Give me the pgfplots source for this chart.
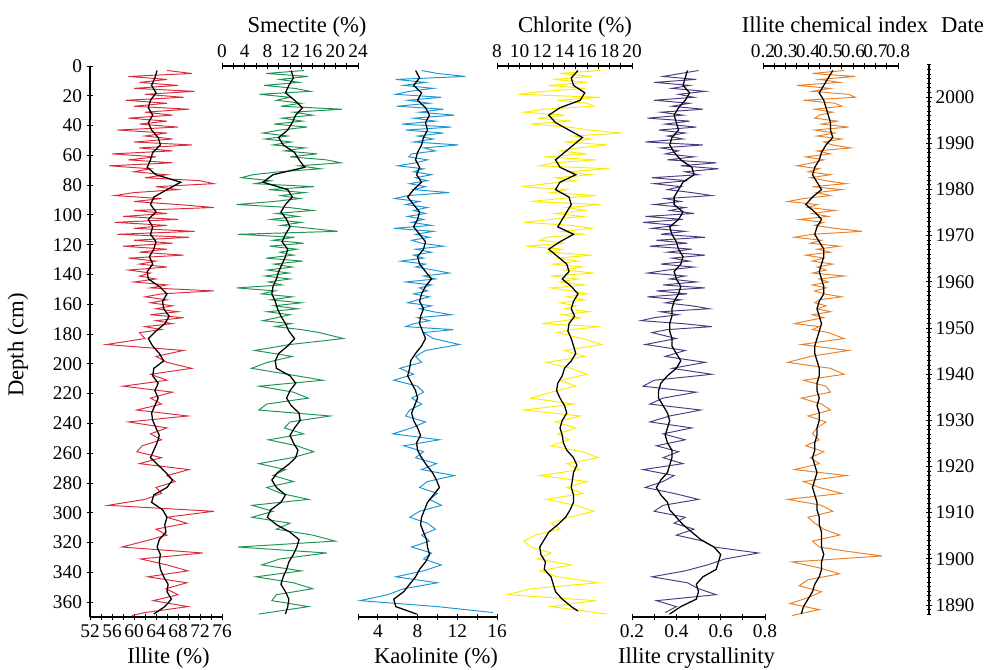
\documentclass[border=0pt]{standalone}
\usepackage{pgfplots}
\pgfplotsset{compat=1.18}
\usepackage{fontspec}
\setmainfont{Liberation Serif}

\definecolor{illitec}{RGB}{218,45,60}
\definecolor{smectc}{RGB}{30,148,82}
\definecolor{kaolc}{RGB}{28,150,212}
\definecolor{chlorc}{RGB}{252,236,0}
\definecolor{crystc}{RGB}{78,58,132}
\definecolor{chemc}{RGB}{234,128,40}

\pgfplotsset{
  panel/.style={
    scale only axis, height=413.25pt, anchor=south west,
    ymin=0, ymax=370, y dir=reverse, enlargelimits=false,
    tick style={black, line width=0.7pt},
    major tick length=5pt, minor tick length=4pt,
    tick label style={font=\fontsize{14.5}{17}\selectfont},
    /pgf/number format/assume math mode=true,
    clip=false,
  },
  plain lines/.style={
    axis line style={-, line width=0.9pt},
    x axis line style={-}, y axis line style={-},
    every outer x axis line/.append style={-},
    every outer y axis line/.append style={-},
  },
  raw/.style={line width=0.72pt},
  mean/.style={black, line width=0.95pt},
}

\newcommand\ttl{\fontsize{17}{20}\selectfont}

\begin{document}
\begin{tikzpicture}
\path[use as bounding box] (0pt,0pt) rectangle (740.25pt,-501.75pt);

% Illite
\begin{axis}[panel, at={(67.5pt,-462.75pt)}, width=99pt,
  xmin=52, xmax=76, axis x line=bottom, axis y line=left,
  xtick={52,56,...,76}, minor xtick={54,58,...,74},
  ytick={0,20,...,360}, plain lines]
\addplot[raw, illitec] coordinates {(66,3) (70.5,5) (59,7) (66,9) (61,11) (68,13) (60,15) (71,17) (62,19) (69,21) (58.5,23) (66,25) (60,27) (70,29) (62,31) (67,33) (59,35) (66,37) (61,39) (68,41) (57,43) (66,45) (62,47) (67,49) (60,51) (70.5,53) (61,55) (67,57) (56,59) (64,61) (59,63) (67,65) (55.5,67) (63,69) (60,71) (66,73) (62,75) (72,77) (74.5,79) (64,81) (68,83) (60,85) (56.5,87) (65,89) (60,91) (68,93) (74.5,95) (60,97) (66,99) (58,101) (68,103) (56.5,105) (66,107) (60,109) (71,111) (57,113) (70,115) (60,117) (67,119) (58,121) (66,123) (61,125) (69,127) (59,129) (64,131) (61,133) (66,135) (59,137) (63,139) (61,141) (64,143) (60,145) (66,147) (63,149) (74.5,151) (65,153) (62,155) (66,157) (63,159) (67,161) (64,163) (68,165) (63,167) (69,169) (64,171) (67,173) (62,175) (65,177) (61,179) (62,183) (55,187) (69,191) (64,195) (66,199) (70.5,203) (63,207) (66,211) (58,215) (67,219) (63,223) (65,227) (60.5,231) (69.8,235) (59,239) (66,243) (63,247) (65,251) (61.5,255) (60.5,259) (65,263) (61,267) (70,271) (66,275) (67.5,279) (64,283) (65,287) (62,291) (55.3,295) (74.5,299) (66,303) (69.6,307) (64,311) (66,315) (62,319) (57.8,323) (72.5,327) (61.2,331) (66,335) (69.8,339) (62.5,343) (69.6,347) (65.8,351) (68,355) (63.5,359) (69.8,363) (62,367) (59.6,369)};
\addplot[mean] coordinates {(64.2,3) (63.8,8) (63.2,13) (64.0,18) (63.0,23) (62.6,28) (63.4,33) (62.6,38) (63.2,43) (64.4,48) (64.8,53) (63.4,58) (63.0,63) (62.4,68) (64.0,73) (68.5,78) (66.0,83) (63.6,88) (63.0,93) (64.0,98) (62.6,103) (63.4,108) (63.0,113) (64.0,118) (63.6,123) (62.8,128) (63.4,133) (62.4,138) (62.6,143) (64.6,148) (66.0,153) (65.2,158) (65.4,163) (66.4,168) (65.6,173) (64.0,178) (62.6,183) (63.4,188) (64.6,193) (65.4,198) (63.6,203) (63.4,208) (64.4,213) (63.8,218) (64.4,223) (63.8,228) (63.2,233) (63.4,238) (64.0,243) (64.6,248) (64.2,253) (63.6,258) (63.0,263) (64.4,268) (65.8,273) (67.0,278) (66.0,283) (63.6,288) (63.2,293) (65.2,298) (66.0,303) (65.6,308) (65.8,313) (64.6,318) (64.2,323) (64.8,328) (64.6,333) (64.8,338) (65.4,343) (66.2,348) (66.0,353) (66.8,358) (65.6,363) (63.6,368)};
\end{axis}

% Smectite
\begin{axis}[panel, at={(166.5pt,-462.75pt)}, width=102pt,
  xmin=0, xmax=24, axis x line=top, axis y line=none, ytick=\empty,
  xtick={0,4,...,24}, minor xtick={2,6,...,22}, plain lines]
\addplot[raw, smectc] coordinates {(14.5,3) (7.8,5) (15.2,7) (10.2,9) (13.6,11) (7.4,13) (12.8,15) (15.6,17) (6.6,19) (12.0,21) (9.6,23) (14.0,25) (10.4,27) (21.2,29) (12.6,31) (16.0,33) (10.6,35) (14.2,37) (9.2,39) (15.0,41) (10.2,43) (7.2,45) (11.6,47) (7.6,49) (12.2,51) (9.0,53) (14.6,55) (11.0,57) (16.8,59) (12.0,61) (18.4,63) (21.0,65) (13.6,67) (17.4,69) (10.2,71) (5.4,73) (3.4,75) (8.6,77) (5.8,79) (16.2,81) (8.2,83) (14.6,85) (10.4,87) (13.8,89) (9.0,91) (2.6,93) (11.8,95) (16.0,97) (9.6,99) (13.4,101) (8.6,103) (14.0,105) (10.4,107) (15.6,109) (20.4,111) (2.8,113) (12.8,115) (9.0,117) (14.4,119) (8.4,121) (13.2,123) (10.2,125) (12.6,127) (7.8,129) (14.2,131) (9.2,133) (12.4,135) (8.0,137) (11.8,139) (7.6,141) (12.0,143) (8.2,145) (10.6,147) (2.6,149) (9.4,151) (7.0,153) (12.4,155) (8.6,157) (14.0,159) (9.2,161) (13.4,163) (8.0,165) (12.0,167) (9.6,169) (7.2,171) (12.2,173) (9.4,175) (14.0,177) (17.2,179) (21.4,183) (12.0,187) (5.8,191) (12.4,195) (8.0,199) (5.2,203) (11.6,207) (17.8,211) (6.5,215) (12.6,219) (15.2,223) (7.9,227) (6.5,231) (19.1,235) (12.0,239) (11.0,243) (14.4,247) (8.2,251) (13.2,255) (16.2,259) (12.4,263) (6.5,267) (11.2,271) (9.0,275) (12.6,279) (7.9,283) (10.4,287) (15.3,291) (5.3,295) (9.0,299) (5.3,303) (12.0,307) (9.6,311) (16.0,315) (20.0,319) (2.8,323) (18.5,327) (10.2,331) (7.0,335) (14.0,339) (6.0,343) (12.6,347) (16.0,351) (9.6,355) (8.8,359) (15.3,363) (6.5,368)};
\addplot[mean] coordinates {(12.2,3) (12.6,8) (11.8,13) (11.2,18) (12.8,23) (14.2,28) (13.0,33) (12.4,38) (11.6,43) (10.0,48) (10.8,53) (12.8,58) (13.6,63) (14.6,68) (9.0,73) (7.2,78) (11.6,83) (12.4,88) (11.2,93) (10.4,98) (11.4,103) (12.0,108) (11.2,113) (10.6,118) (11.6,123) (11.2,128) (10.6,133) (10.0,138) (9.6,143) (9.0,148) (8.8,153) (9.4,158) (9.8,163) (10.4,168) (11.2,173) (11.8,178) (12.8,183) (11.6,188) (10.0,193) (9.4,198) (9.6,203) (12.0,208) (13.0,213) (12.0,218) (11.4,223) (12.2,228) (13.6,233) (13.8,238) (12.8,243) (12.0,248) (12.6,253) (13.4,258) (13.0,263) (11.6,268) (9.8,273) (8.8,278) (9.6,283) (11.2,288) (10.4,293) (8.6,298) (8.0,303) (9.6,308) (12.0,313) (13.6,318) (13.2,323) (12.6,328) (11.8,333) (11.4,338) (10.8,343) (10.4,348) (11.2,353) (11.8,358) (11.6,363) (11.2,368)};
\end{axis}

% Kaolinite
\begin{axis}[panel, at={(268.5pt,-462.75pt)}, width=104.25pt,
  xmin=2, xmax=16, axis x line=bottom, axis y line=none, ytick=\empty,
  xtick={4,8,12,16}, minor xtick={2,6,10,14}, plain lines]
\addplot[raw, kaolc] coordinates {(8.4,3) (10.0,5) (12.8,7) (5.8,9) (8.8,11) (6.6,13) (9.6,15) (7.2,17) (5.8,19) (10.4,21) (7.0,23) (9.2,25) (5.9,27) (10.6,29) (8.2,31) (11.7,33) (7.6,35) (9.8,37) (6.4,39) (11.4,41) (6.8,43) (10.6,45) (8.0,47) (9.6,49) (7.6,51) (12.1,53) (8.6,55) (9.8,57) (7.4,59) (7.1,61) (9.0,63) (7.8,65) (6.0,67) (8.6,69) (7.6,71) (9.4,73) (7.8,75) (9.0,77) (7.2,79) (8.8,81) (7.6,83) (11.2,85) (7.0,87) (5.7,89) (8.2,91) (6.8,93) (9.0,95) (7.6,97) (8.8,99) (7.0,101) (8.6,103) (7.4,105) (9.4,107) (5.6,109) (9.6,111) (7.8,113) (9.2,115) (7.4,117) (8.4,119) (10.6,121) (7.8,123) (9.4,125) (7.6,127) (8.6,129) (6.3,131) (8.8,133) (7.8,135) (9.6,137) (11.2,139) (8.6,141) (9.8,143) (6.8,145) (9.4,147) (8.2,149) (9.0,151) (7.6,153) (9.2,155) (8.0,157) (7.0,159) (9.4,161) (8.2,163) (9.6,165) (11.4,167) (8.0,169) (9.2,171) (7.6,173) (6.8,175) (11.6,177) (8.6,179) (9.6,183) (12.2,187) (8.8,191) (7.8,195) (8.4,199) (6.2,203) (7.6,207) (5.6,211) (8.0,215) (8.6,219) (7.4,223) (8.4,227) (7.2,231) (6.8,235) (8.8,239) (7.4,243) (5.5,247) (10.2,251) (6.6,255) (8.6,259) (7.8,263) (9.9,267) (8.4,271) (11.7,275) (9.0,279) (8.2,283) (10.0,287) (9.2,291) (10.4,295) (8.2,299) (7.2,303) (9.0,307) (9.8,311) (8.4,315) (9.2,319) (7.4,323) (9.4,327) (8.6,331) (10.4,335) (8.6,339) (5.8,343) (10.0,347) (6.6,351) (5.0,355) (2.2,359) (10.0,363) (15.6,367)};
\addplot[mean] coordinates {(7.8,3) (8.2,8) (7.6,13) (8.4,18) (8.0,23) (8.8,28) (9.2,33) (8.8,38) (9.0,43) (8.6,48) (8.4,53) (8.0,58) (7.8,63) (8.2,68) (7.9,73) (8.4,78) (7.6,83) (7.0,88) (7.6,93) (8.2,98) (8.0,103) (7.6,108) (8.2,113) (8.8,118) (8.6,123) (8.0,128) (8.2,133) (8.8,138) (9.4,143) (8.8,148) (8.4,153) (8.2,158) (8.6,163) (8.3,168) (8.2,173) (8.5,178) (8.8,183) (8.4,188) (7.8,193) (7.3,198) (7.2,203) (7.0,208) (7.4,213) (7.8,218) (8.0,223) (7.7,228) (7.4,233) (7.6,238) (8.0,243) (8.3,248) (7.9,253) (8.0,258) (8.4,263) (8.9,268) (9.5,273) (9.9,278) (10.2,283) (9.6,288) (9.0,293) (8.7,298) (8.4,303) (8.3,308) (8.6,313) (8.9,318) (9.0,323) (9.2,328) (8.8,333) (8.2,338) (7.8,343) (7.2,348) (6.6,353) (5.6,358) (5.8,363) (7.9,368)};
\end{axis}

% Chlorite
\begin{axis}[panel, at={(372.75pt,-462.75pt)}, width=101.25pt,
  xmin=8, xmax=20, axis x line=top, axis y line=none, ytick=\empty,
  xtick={8,10,...,20}, minor xtick={9,11,...,19}, plain lines]
\addplot[raw, chlorc] coordinates {(17.2,3) (13.6,5) (16.4,7) (13.0,9) (16.0,11) (12.6,13) (15.8,15) (12.2,17) (9.9,19) (17.2,21) (13.4,23) (16.0,25) (16.6,27) (12.2,29) (10.4,31) (14.0,33) (11.6,35) (14.6,37) (11.0,39) (14.4,41) (16.2,43) (19.1,45) (14.8,47) (16.4,49) (14.0,51) (17.8,53) (15.2,55) (13.6,57) (16.0,59) (12.2,61) (16.8,63) (13.0,65) (11.8,67) (18.0,69) (14.2,71) (16.4,73) (13.2,75) (15.0,77) (12.4,79) (10.2,81) (14.2,83) (12.8,85) (16.8,87) (13.6,89) (11.0,91) (17.2,93) (14.2,95) (15.8,97) (13.2,99) (15.6,101) (12.8,103) (10.4,105) (14.6,107) (16.4,109) (13.8,111) (15.6,113) (12.4,115) (11.8,117) (14.0,119) (10.6,121) (13.8,123) (12.6,125) (16.4,127) (13.4,129) (15.2,131) (13.0,133) (15.6,135) (14.0,137) (16.6,139) (12.8,141) (15.2,143) (13.6,145) (15.8,147) (12.8,149) (14.6,151) (16.0,153) (14.2,155) (15.8,157) (13.6,159) (15.0,161) (14.0,163) (16.2,165) (13.8,167) (15.4,169) (14.0,171) (12.0,173) (17.2,175) (14.6,177) (13.4,179) (15.6,183) (17.3,187) (14.0,191) (15.8,195) (12.4,199) (14.6,203) (16.0,207) (13.6,211) (15.0,215) (12.8,219) (11.0,223) (14.8,227) (10.4,231) (15.4,235) (13.2,239) (15.0,243) (13.4,247) (14.4,251) (12.8,255) (15.6,259) (17.0,263) (14.2,267) (15.4,271) (11.8,275) (16.0,279) (14.2,283) (15.6,287) (12.4,291) (15.0,295) (16.6,299) (14.4,303) (12.8,307) (13.6,311) (11.4,315) (10.4,319) (11.0,323) (12.8,327) (11.6,331) (14.6,335) (11.8,339) (13.4,343) (17.0,347) (11.0,351) (8.9,355) (16.8,359) (12.8,363) (17.8,368)};
\addplot[mean] coordinates {(15.2,3) (14.6,8) (14.8,13) (15.8,18) (15.4,23) (13.6,28) (12.6,33) (13.2,38) (14.4,43) (15.6,48) (14.8,53) (14.0,58) (13.2,63) (13.6,68) (15.0,73) (13.6,78) (13.2,83) (14.4,88) (14.6,93) (14.2,98) (13.8,103) (13.4,108) (14.8,113) (13.6,118) (12.6,123) (13.4,128) (14.2,133) (14.4,138) (13.8,143) (14.6,148) (15.2,153) (14.8,158) (14.6,163) (14.9,168) (14.4,173) (14.3,178) (14.6,183) (14.8,188) (15.0,193) (14.6,198) (14.0,203) (13.8,208) (13.4,213) (13.3,218) (13.6,223) (14.0,228) (14.2,233) (13.8,238) (13.6,243) (13.8,248) (13.9,253) (14.2,258) (14.8,263) (15.1,268) (14.8,273) (14.7,278) (14.6,283) (14.8,288) (14.8,293) (14.5,298) (14.1,303) (13.4,308) (12.6,313) (12.2,318) (11.8,323) (11.9,328) (12.3,333) (12.2,338) (12.8,343) (13.0,348) (13.2,353) (13.8,358) (14.6,363) (15.2,366)};
\end{axis}

% Illite crystallinity
\begin{axis}[panel, at={(474pt,-462.75pt)}, width=99.75pt,
  xmin=0.2, xmax=0.8, axis x line=bottom, axis y line=none, ytick=\empty,
  xtick={0.2,0.4,0.6,0.8}, minor xtick={0.3,0.5,0.7},
  xticklabel style={/pgf/number format/.cd, fixed, precision=1, fixed zerofill},
  plain lines]
\addplot[raw, crystc] coordinates {(0.50,3) (0.42,5) (0.34,7) (0.49,9) (0.30,11) (0.46,13) (0.38,15) (0.53,17) (0.41,19) (0.48,21) (0.30,23) (0.46,25) (0.38,27) (0.52,29) (0.33,31) (0.43,33) (0.27,35) (0.46,37) (0.35,39) (0.49,41) (0.32,43) (0.44,45) (0.36,47) (0.43,49) (0.26,51) (0.52,53) (0.33,55) (0.41,57) (0.35,59) (0.48,61) (0.36,63) (0.58,65) (0.42,67) (0.59,69) (0.44,71) (0.50,73) (0.29,75) (0.45,77) (0.30,79) (0.42,81) (0.36,83) (0.47,85) (0.56,87) (0.35,89) (0.42,91) (0.30,93) (0.44,95) (0.37,97) (0.48,99) (0.26,101) (0.43,103) (0.25,105) (0.40,107) (0.29,109) (0.44,111) (0.33,113) (0.53,115) (0.31,117) (0.45,119) (0.28,121) (0.47,123) (0.36,125) (0.53,127) (0.38,129) (0.46,131) (0.33,133) (0.48,135) (0.36,137) (0.27,139) (0.44,141) (0.37,143) (0.49,145) (0.34,147) (0.53,149) (0.31,151) (0.45,153) (0.27,155) (0.42,157) (0.35,159) (0.47,161) (0.55,163) (0.33,165) (0.41,167) (0.30,169) (0.24,171) (0.43,173) (0.56,175) (0.36,177) (0.29,179) (0.40,183) (0.26,187) (0.44,191) (0.35,195) (0.53,199) (0.38,203) (0.56,207) (0.30,211) (0.25,215) (0.49,219) (0.34,223) (0.28,227) (0.51,231) (0.37,235) (0.28,239) (0.47,243) (0.34,247) (0.44,251) (0.31,255) (0.41,259) (0.34,263) (0.43,267) (0.25,271) (0.39,275) (0.34,279) (0.26,283) (0.39,287) (0.50,291) (0.34,295) (0.30,299) (0.44,303) (0.39,307) (0.48,311) (0.40,315) (0.52,319) (0.57,323) (0.77,327) (0.62,331) (0.54,335) (0.44,339) (0.29,343) (0.45,347) (0.50,351) (0.58,355) (0.31,359) (0.40,363) (0.35,367)};
\addplot[mean] coordinates {(0.45,3) (0.44,8) (0.43,13) (0.46,18) (0.44,23) (0.41,28) (0.39,33) (0.40,38) (0.41,43) (0.38,48) (0.37,53) (0.39,58) (0.42,63) (0.47,68) (0.48,73) (0.43,78) (0.41,83) (0.39,88) (0.39,93) (0.43,98) (0.41,103) (0.37,108) (0.38,113) (0.40,118) (0.41,123) (0.43,128) (0.42,133) (0.39,138) (0.40,143) (0.42,148) (0.41,153) (0.39,158) (0.38,163) (0.38,168) (0.37,173) (0.37,178) (0.38,183) (0.38,188) (0.40,193) (0.42,198) (0.40,203) (0.36,208) (0.33,213) (0.32,218) (0.32,223) (0.34,228) (0.36,233) (0.37,238) (0.36,243) (0.35,248) (0.36,253) (0.38,258) (0.38,263) (0.37,268) (0.36,273) (0.33,278) (0.31,283) (0.33,288) (0.36,293) (0.37,298) (0.40,303) (0.43,308) (0.47,313) (0.51,318) (0.57,323) (0.60,328) (0.59,333) (0.58,338) (0.52,343) (0.49,348) (0.50,353) (0.49,358) (0.42,363) (0.37,368)};
\end{axis}

% Illite chemical index
\begin{axis}[panel, at={(572.25pt,-462.75pt)}, width=101.25pt,
  xmin=0.2, xmax=0.8, axis x line=top, axis y line=none, ytick=\empty,
  xtick={0.2,0.3,0.4,0.5,0.6,0.7,0.8},
  minor xtick={0.25,0.35,0.45,0.55,0.65,0.75},
  xticklabel style={/pgf/number format/.cd, fixed, precision=1, fixed zerofill},
  plain lines]
\addplot[raw, chemc] coordinates {(0.56,3) (0.42,5) (0.61,7) (0.45,9) (0.54,11) (0.35,13) (0.50,15) (0.42,17) (0.58,19) (0.61,21) (0.38,23) (0.52,25) (0.55,27) (0.43,29) (0.51,31) (0.45,33) (0.43,35) (0.53,37) (0.46,39) (0.58,41) (0.43,43) (0.52,45) (0.44,47) (0.55,49) (0.47,51) (0.51,53) (0.59,55) (0.44,57) (0.50,59) (0.39,61) (0.47,63) (0.42,65) (0.35,67) (0.45,69) (0.40,71) (0.50,73) (0.41,75) (0.48,77) (0.57,79) (0.42,81) (0.55,83) (0.44,85) (0.50,87) (0.38,89) (0.31,91) (0.44,93) (0.40,95) (0.52,97) (0.42,99) (0.49,101) (0.36,103) (0.47,105) (0.43,107) (0.52,109) (0.64,111) (0.42,113) (0.34,115) (0.46,117) (0.41,119) (0.54,121) (0.44,123) (0.50,125) (0.39,127) (0.47,129) (0.42,131) (0.51,133) (0.44,135) (0.48,137) (0.42,139) (0.56,141) (0.45,143) (0.49,145) (0.42,147) (0.48,149) (0.43,151) (0.47,153) (0.55,155) (0.45,157) (0.43,159) (0.48,161) (0.44,163) (0.50,165) (0.42,167) (0.47,169) (0.40,171) (0.34,173) (0.45,175) (0.42,177) (0.49,179) (0.56,183) (0.37,187) (0.58,191) (0.41,195) (0.31,199) (0.50,203) (0.56,207) (0.38,211) (0.48,215) (0.50,219) (0.37,223) (0.46,227) (0.50,231) (0.40,235) (0.48,239) (0.44,243) (0.42,247) (0.45,251) (0.39,255) (0.47,259) (0.41,263) (0.45,267) (0.34,271) (0.57,275) (0.38,279) (0.45,283) (0.55,287) (0.31,291) (0.46,295) (0.51,299) (0.40,303) (0.43,307) (0.47,311) (0.54,315) (0.42,319) (0.45,323) (0.58,326) (0.73,329) (0.33,333) (0.45,337) (0.54,341) (0.40,345) (0.36,349) (0.46,353) (0.40,357) (0.32,361) (0.45,365) (0.33,369)};
\addplot[mean] coordinates {(0.51,3) (0.49,8) (0.47,13) (0.45,18) (0.47,23) (0.48,28) (0.49,33) (0.50,38) (0.50,43) (0.51,48) (0.48,53) (0.46,58) (0.45,63) (0.43,68) (0.42,73) (0.44,78) (0.46,83) (0.42,88) (0.39,93) (0.43,98) (0.46,103) (0.44,108) (0.43,113) (0.45,118) (0.47,123) (0.47,128) (0.46,133) (0.45,138) (0.46,143) (0.47,148) (0.47,153) (0.45,158) (0.44,163) (0.45,168) (0.46,173) (0.45,178) (0.44,183) (0.43,188) (0.43,193) (0.44,198) (0.45,203) (0.45,208) (0.44,213) (0.44,218) (0.45,223) (0.44,228) (0.45,233) (0.45,238) (0.44,243) (0.44,248) (0.43,253) (0.43,258) (0.42,263) (0.43,268) (0.44,273) (0.43,278) (0.42,283) (0.43,288) (0.44,293) (0.44,298) (0.45,303) (0.45,308) (0.46,313) (0.46,318) (0.46,323) (0.47,328) (0.46,333) (0.46,338) (0.45,343) (0.43,348) (0.42,353) (0.40,358) (0.38,363) (0.37,368)};
\end{axis}

% Date scale
\begin{axis}[scale only axis, anchor=south west, at={(695.75pt,-460.65pt)},
  width=1pt, height=412.1pt, xmin=0, xmax=1, ymin=1888, ymax=2007,
  axis x line=none, axis y line=right,
  tick style={black, line width=0.6pt},
  major tick length=5pt, minor tick length=3pt,
  ytick={1890,1900,...,2000}, minor ytick={1888,1889,...,2007},
  yticklabel style={font=\fontsize{14.5}{17}\selectfont, xshift=-1pt,
    /pgf/number format/1000 sep={}},
  /pgf/number format/assume math mode=true, plain lines]
\end{axis}

% titles
\node[font=\ttl, rotate=90] at (13.5pt,-258.75pt) {Depth (cm)};
\node[font=\ttl, anchor=base] at (230.25pt,-24pt) {Smectite (\%)};
\node[font=\ttl, anchor=base] at (431.25pt,-24pt) {Chlorite (\%)};
\node[font=\ttl, anchor=base] at (626.25pt,-24pt) {Illite chemical index};
\node[font=\ttl, anchor=base] at (721.9pt,-24pt) {Date};
\node[font=\ttl, anchor=base] at (126.4pt,-497.25pt) {Illite (\%)};
\node[font=\ttl, anchor=base] at (327pt,-497.25pt) {Kaolinite (\%)};
\node[font=\ttl, anchor=base] at (522.4pt,-497.25pt) {Illite crystallinity};
\end{tikzpicture}
\end{document}
